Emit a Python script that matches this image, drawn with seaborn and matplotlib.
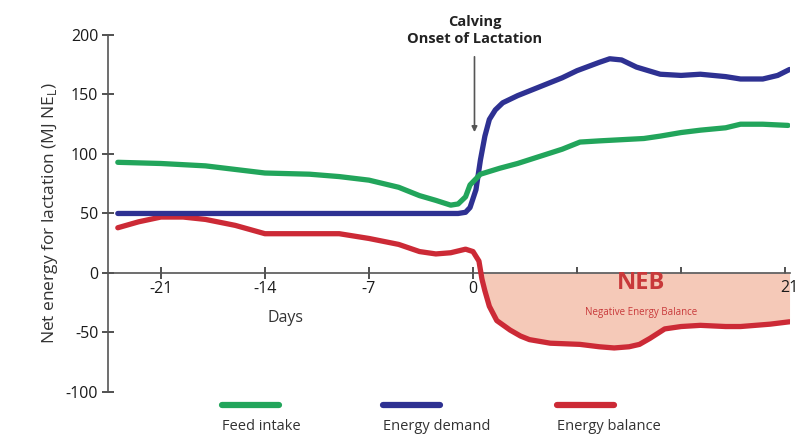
import numpy as np
import pandas as pd
import matplotlib
matplotlib.use("Agg")
import matplotlib.pyplot as plt
from matplotlib.lines import Line2D
import seaborn as sns

# Data (days relative to calving, MJ NE_L)
feed_days = [-23.9, -21, -18, -14, -11, -9, -7, -5, -3.6, -2.5, -1.5, -1, -0.5, -0.2, 0.5, 1.8,
             3, 4.5, 6, 7.2, 8.5, 10, 11.5, 12.6, 14, 15.3, 17, 18, 19.5, 21.2]
feed_vals = [93, 92, 90, 84, 83, 81, 78, 72, 65, 61, 57, 58, 64, 74, 83, 88,
             92, 98, 104, 110, 111, 112, 113, 115, 118, 120, 122, 125, 125, 124]

demand_days = [-23.9, -1.0, -0.5, -0.2, 0.2, 0.5, 0.8, 1.1, 1.5, 2, 3, 4, 5, 6, 7, 8.5, 9.2,
               10, 11, 12.6, 14, 15.3, 17, 18, 19.5, 20.5, 21.3]
demand_vals = [50, 50, 51, 55, 70, 95, 115, 129, 137, 143, 149, 154, 159, 164, 170, 177, 180,
               179, 173, 167, 166, 167, 165, 163, 163, 166, 171]

balance_days = [-23.9, -22.5, -21, -19.5, -18, -16, -14, -11, -9, -7, -5, -3.6, -2.5, -1.5, -0.5,
                0, 0.4, 0.6, 0.8, 1.1, 1.6, 2.5, 3.2, 3.8, 5.2, 7.2, 8.5, 9.5, 10.5, 11.2, 11.9,
                12.9, 14, 15.3, 17, 18, 20, 21.3]
balance_vals = [38, 43, 47, 47, 45, 40, 33, 33, 33, 29, 24, 18, 16, 17, 20,
                18, 10, -5, -15, -28, -40, -48, -53, -56, -59, -60, -62, -63, -62, -60, -55,
                -47, -45, -44, -45, -45, -43, -41]

x_ticks = [-21, -14, -7, 0, 7, 14, 21]
x_tick_labels = ["-21", "-14", "-7", "0", "", "", ""]
y_ticks = [-100, -50, 0, 50, 100, 150, 200]

green = "#22a55b"
blue = "#2e3192"
red = "#cc2a36"

sns.set_style("ticks")
plt.rcParams["font.family"] = ["Open Sans", "DejaVu Sans"]
plt.rcParams["axes.unicode_minus"] = False

fig = plt.figure(figsize=(8, 4.37), dpi=100)
ax = fig.add_axes([0.135, 0.103, 0.8525, 0.817])

feed = pd.DataFrame({"day": feed_days, "value": feed_vals})
demand = pd.DataFrame({"day": demand_days, "value": demand_vals})
balance = pd.DataFrame({"day": balance_days, "value": balance_vals})

# NEB shaded area
bd = np.array(balance_days)
bv = np.array(balance_vals)
ax.fill_between(bd, bv, 0, where=bd >= 0.4, interpolate=True, color="#f5c9b8", lw=0, zorder=1)

sns.lineplot(data=balance, x="day", y="value", color=red, lw=3.8, ax=ax, zorder=3)
sns.lineplot(data=demand, x="day", y="value", color=blue, lw=3.8, ax=ax, zorder=4)
sns.lineplot(data=feed, x="day", y="value", color=green, lw=3.8, ax=ax, zorder=5)

ax.set_xlim(-24.56, 21.33)
ax.set_ylim(-100, 200)
ax.set_xlabel("")
ax.set_ylabel("Net energy for lactation (MJ NE$_\\mathregular{L}$)", fontsize=12.5, color="#333333", labelpad=4)

for s in ["top", "right"]:
    ax.spines[s].set_visible(False)
ax.spines["bottom"].set_position(("data", 0))
for s in ["left", "bottom"]:
    ax.spines[s].set_color("#555555")
    ax.spines[s].set_linewidth(1.2)

ax.set_xticks(x_ticks)
ax.set_xticklabels(x_tick_labels)
ax.set_yticks(y_ticks)
ax.tick_params(axis="both", direction="inout", length=8, width=1.2, color="#333333",
               labelsize=11.5, labelcolor="#1a1a1a")
ax.tick_params(axis="x", pad=2)
ax.tick_params(axis="y", pad=3)
ax.text(21.3, -6, "21", fontsize=11.5, color="#1a1a1a", ha="center", va="top")
ax.text(-12.6, -31, "Days", fontsize=11.5, color="#333333", ha="center", va="top")

# NEB label
ax.text(11.3, -8, "NEB", fontsize=17, fontweight="bold", color="#c8393a", ha="center", va="center")
ax.text(11.3, -33, "Negative Energy Balance", fontsize=7, color="#c8393a", ha="center", va="center")

# calving annotation
ax.annotate("", xy=(0.1, 116), xytext=(0.1, 184),
            arrowprops=dict(arrowstyle="-|>", color="#555555", lw=1.2, mutation_scale=8),
            annotation_clip=False)
ax.text(0.1, 191, "Calving\nOnset of Lactation", fontsize=10.5, fontweight="bold", color="#222222",
        ha="center", va="bottom", linespacing=1.2, clip_on=False)

# legend: short line above each label
legend_items = [("Feed intake", green, 0.2775), ("Energy demand", blue, 0.479), ("Energy balance", red, 0.696)]
for name, col, x0 in legend_items:
    fig.add_artist(Line2D([x0, x0 + 0.0715], [0.073, 0.073], color=col, lw=4.5, transform=fig.transFigure))
    fig.text(x0, 0.025, name, fontsize=10.5, color="#333333", ha="left", va="center")

fig.savefig("out.png", dpi=100)
